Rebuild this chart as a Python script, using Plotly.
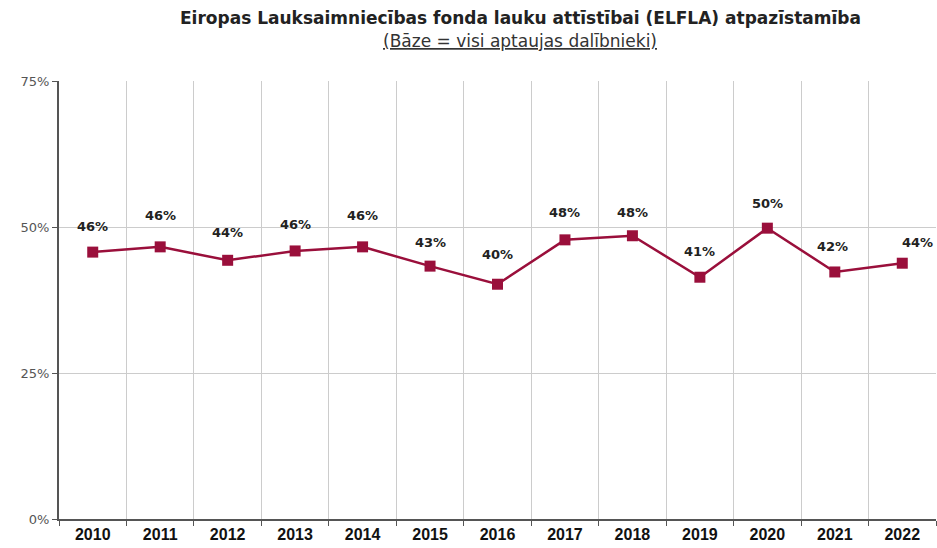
import plotly.graph_objects as go

years = ["2010", "2011", "2012", "2013", "2014", "2015", "2016",
         "2017", "2018", "2019", "2020", "2021", "2022"]
values = [45.7, 46.6, 44.3, 45.9, 46.6, 43.3, 40.2, 47.8, 48.5, 41.4, 49.8, 42.3, 43.8]
labels = ["46%", "46%", "44%", "46%", "46%", "43%", "40%", "48%", "48%", "41%", "50%", "42%", "44%"]
label_dy = [26, 31, 28, 26, 31, 24, 30, 27, 23, 26, 25, 25, 21]
label_dx = [0, 0, 0, 0, 0, 0, 0, 0, 0, 0, 0, -2, 15]
y_ticks = [0, 25, 50, 75]
y_tick_text = ["0%", "25%", "50%", "75%"]

color = "#9a0f3b"

fig = go.Figure()
fig.add_trace(go.Scatter(
    x=years, y=values, mode="lines+markers",
    line=dict(color=color, width=2.5),
    marker=dict(symbol="square", size=11, color=color),
    hoverinfo="skip", showlegend=False,
))

for i, (v, t, dy, dx) in enumerate(zip(values, labels, label_dy, label_dx)):
    fig.add_annotation(x=i, y=v, text="<b>" + t + "</b>", showarrow=False,
                       yshift=dy, xshift=dx,
                       font=dict(family="DejaVu Sans", size=13, color="#222"))

fig.add_annotation(
    xref="paper", yref="paper", x=0.526, y=1.0, yshift=63, showarrow=False,
    text="<b>Eiropas Lauksaimniecības fonda lauku attīstībai (ELFLA) atpazīstamība</b>",
    font=dict(family="DejaVu Sans", size=17, color="#222"), yanchor="middle")
fig.add_annotation(
    xref="paper", yref="paper", x=0.526, y=1.0, yshift=40, showarrow=False,
    text="<u>(Bāze = visi aptaujas dalībnieki)</u>",
    font=dict(family="DejaVu Sans", size=17, color="#333"), yanchor="middle")

fig.update_layout(
    width=937, height=548,
    margin=dict(l=59, r=1, t=81, b=29),
    paper_bgcolor="white", plot_bgcolor="white",
    xaxis=dict(
        type="category", tickson="boundaries", showgrid=True, gridcolor="#cccccc", gridwidth=1,
        showline=True, linecolor="#555", linewidth=2, ticks="outside", ticklen=5,
        tickcolor="#555",
        tickfont=dict(family="Liberation Sans Narrow, Liberation Sans", size=16, color="#111"),
        tickprefix="<b>", ticksuffix="</b>", range=[-0.5, 12.5],
    ),
    yaxis=dict(
        range=[0, 75], tickvals=y_ticks, ticktext=y_tick_text, showgrid=True,
        gridcolor="#cccccc", gridwidth=1, showline=True, linecolor="#555", linewidth=2,
        ticks="outside", ticklen=5, tickcolor="#555", zeroline=False,
        tickfont=dict(family="DejaVu Sans", size=13, color="#555"),
    ),
)

fig.write_html("out.html")
